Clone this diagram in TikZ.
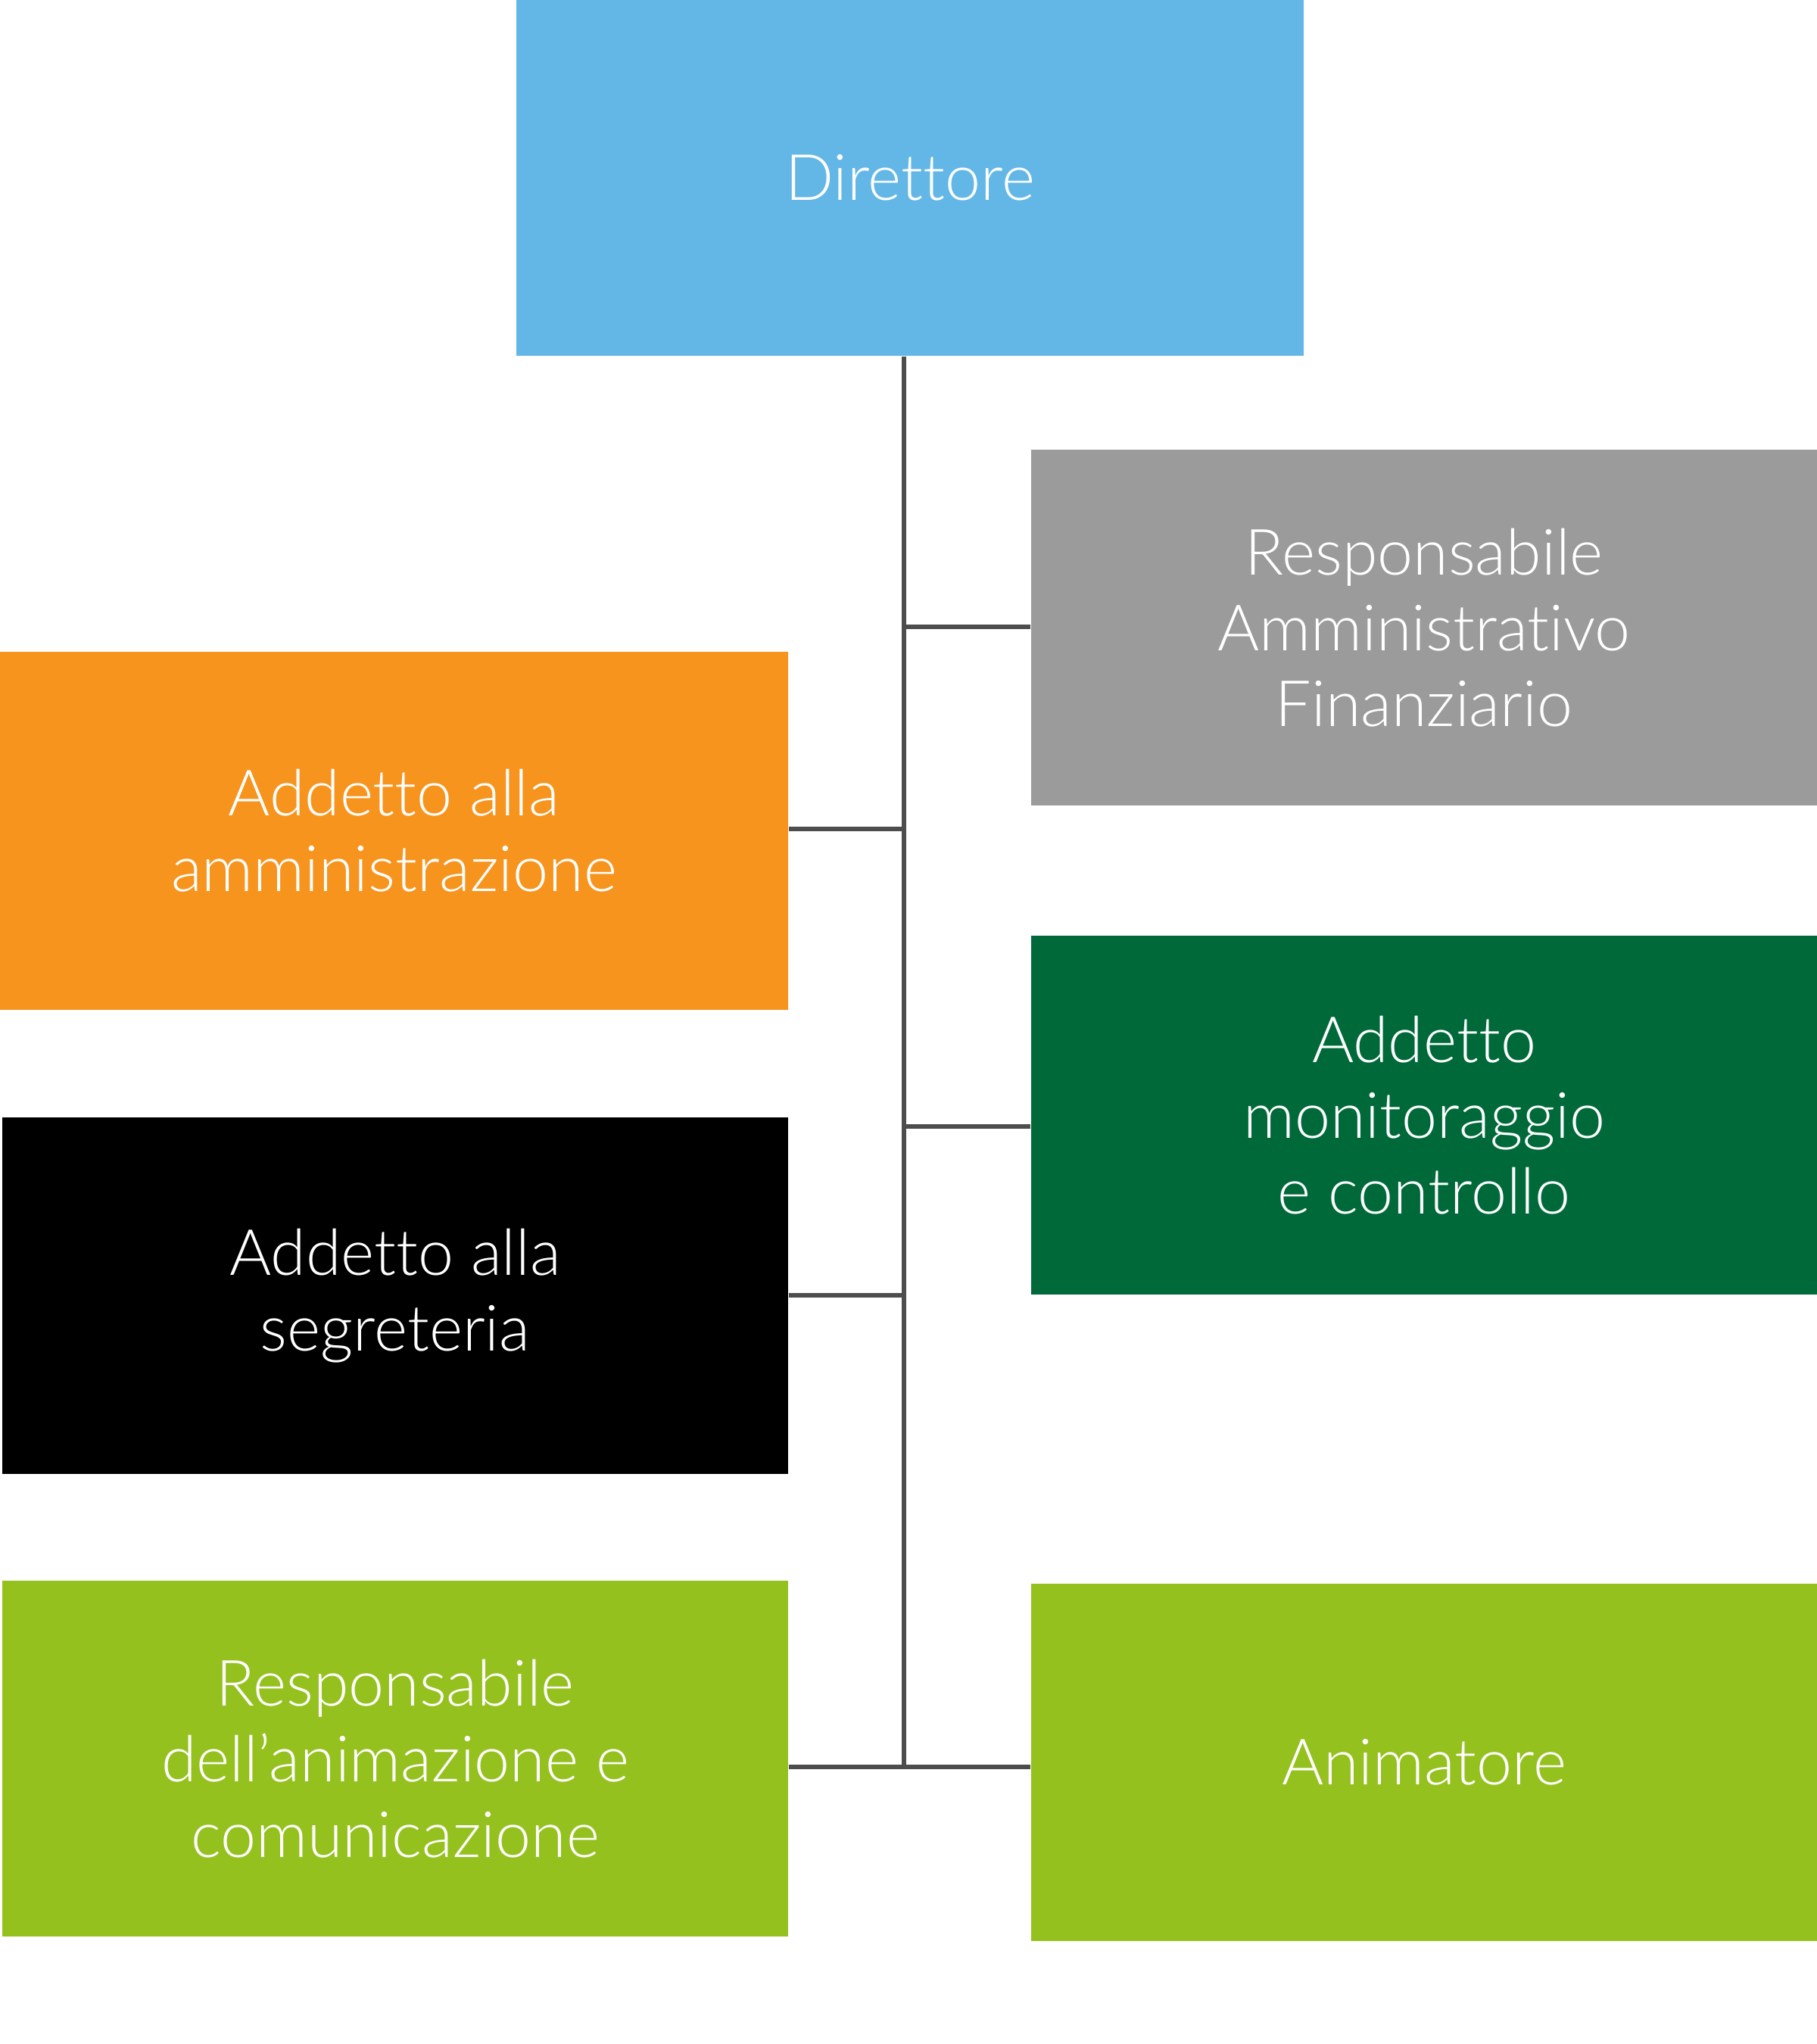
\documentclass[tikz,border=0pt]{standalone}
\usepackage{fontspec}
\setmainfont{Lato Light}[Ligatures={NoCommon}]
\usepackage{tikz}

\begin{document}
\begin{tikzpicture}
	\definecolor{dirblue}{HTML}{63B7E6}
	\definecolor{admgray}{HTML}{9B9B9B}
	\definecolor{ammorange}{HTML}{F7941E}
	\definecolor{mongreen}{HTML}{00693A}
	\definecolor{animgreen}{HTML}{95C11F}
	\definecolor{linegray}{HTML}{4D4D4D}
	\tikzset{
		box/.style={inner sep=0pt,minimum width=10.38cm,minimum height=4.72cm,align=center,text=white,
			font=\fontsize{24}{28.45}\selectfont},
		conn/.style={draw=linegray,line width=0.06cm}
	}
	\useasboundingbox (0,0) rectangle (24,-27);

	% boxes
	\node[box,fill=dirblue,minimum width=10.4cm,minimum height=4.7cm] (dir) at (12.02,-2.35) {Direttore};
	\node[box,fill=admgray,minimum height=4.7cm] (raf) at (18.81,-8.29) {Responsabile\\Amministrativo\\Finanziario};
	\node[box,fill=ammorange,minimum width=10.41cm,minimum height=4.73cm] (amm) at (5.205,-10.975) {Addetto alla\\amministrazione};
	\node[box,fill=mongreen,minimum height=4.74cm] (mon) at (18.81,-14.73) {Addetto\\monitoraggio\\e controllo};
	\node[box,fill=black,minimum height=4.71cm] (seg) at (5.22,-17.115) {Addetto alla\\segreteria};
	\node[box,fill=animgreen,minimum height=4.7cm] (com) at (5.22,-23.23) {Responsabile\\dell’animazione e\\comunicazione};
	\node[box,fill=animgreen] (ani) at (18.81,-23.28) {Animatore};

	% spine and junctions
	\coordinate (jraf) at (11.94,-8.28);
	\coordinate (jamm) at (11.94,-10.95);
	\coordinate (jmon) at (11.94,-14.875);
	\coordinate (jseg) at (11.94,-17.11);
	\coordinate (jend) at (11.94,-23.34);
	\draw[conn] (dir.south -| jend) -- (jend);
	\draw[conn] (raf.west |- jraf) -- (jraf);
	\draw[conn] (amm.east |- jamm) -- (jamm);
	\draw[conn] (mon.west |- jmon) -- (jmon);
	\draw[conn] (seg.east |- jseg) -- (jseg);
	\draw[conn] (com.east |- jend) -- (ani.west |- jend);
\end{tikzpicture}
\end{document}
